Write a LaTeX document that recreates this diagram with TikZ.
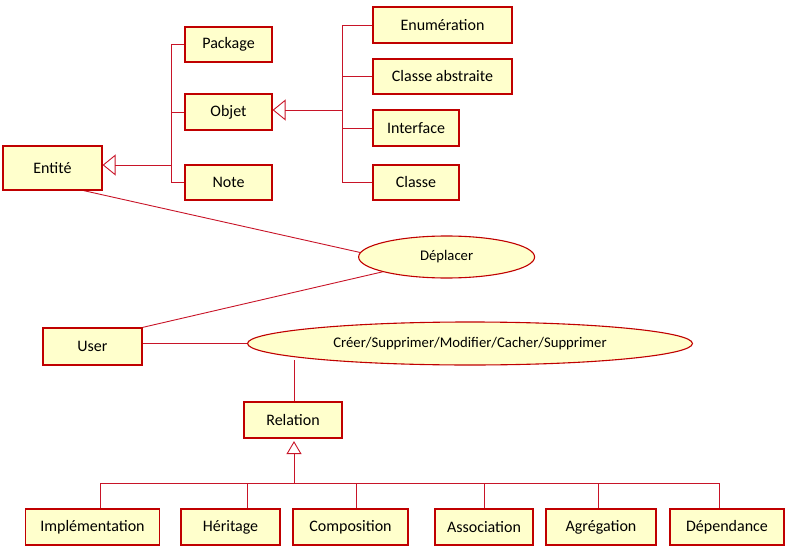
\documentclass[tikz,border=0pt]{standalone}
\usepackage{fontspec}
\setmainfont{Carlito}
\usetikzlibrary{arrows.meta,shapes.geometric}
\definecolor{umlred}{RGB}{192,0,0}
\definecolor{umlline}{RGB}{200,20,40}
\definecolor{umlfill}{RGB}{255,255,204}
\pgfdeclarelayer{background}
\pgfsetlayers{background,main}

\begin{document}
\begin{tikzpicture}[x=1pt,y=-1pt,
  box/.style={draw=umlred, fill=umlfill, line width=1.2pt, inner sep=0pt,
              font=\fontsize{16}{18}\selectfont, anchor=center},
  usecase/.style={ellipse, draw=umlred, fill=umlfill, line width=1.1pt, inner sep=0pt,
              font=\fontsize{14.7}{17}\selectfont},
  link/.style={draw=umlline, line width=0.9pt},
  gen/.style={link, -{Triangle[open, length=13pt, width=21pt]}},
  genv/.style={link, -{Triangle[open, length=13pt, width=15pt]}},
]
\useasboundingbox (0,0) rectangle (797,556);

% entities
\node[box, minimum width=99pt, minimum height=44pt] (ent)  at (52.5,168)   {Entité};
\node[box, minimum width=87pt, minimum height=35pt] (pkg)  at (228.5,44.5) {Package};
\node[box, minimum width=87pt, minimum height=36pt] (obj)  at (228.5,112)  {Objet};
\node[box, minimum width=87pt, minimum height=35pt] (note) at (228.5,182.5){Note};
\node[box, minimum width=139pt, minimum height=36pt] (enum) at (442.5,25)  {Enumération};
\node[box, minimum width=139pt, minimum height=35pt] (abs)  at (442.5,76.5){Classe abstraite};
\node[box, minimum width=86pt, minimum height=36pt] (intf) at (416,128)    {Interface};
\node[box, minimum width=86pt, minimum height=35pt] (cls)  at (416,182.5)  {Classe};

% actor and use cases
\node[box, minimum width=99pt, minimum height=37pt] (user) at (92.5,346.5) {User};
\node[usecase, minimum width=176pt, minimum height=42pt] (depl) at (446.6,257) {Déplacer};
\node[usecase, minimum width=445pt, minimum height=43pt] (cre) at (470,343.5)
     {Créer/Supprimer/Modifier/Cacher/Supprimer};

% relations
\node[box, minimum width=98pt, minimum height=36pt] (rel) at (293,420) {Relation};
\node[box, minimum width=134pt, minimum height=36pt] (impl)  at (92.5,527) {Implémentation};
\node[box, minimum width=99pt,  minimum height=36pt] (her)   at (230.5,527){Héritage};
\node[box, minimum width=115pt, minimum height=36pt] (comp)  at (350.5,527){Composition};
\node[box, minimum width=98pt,  minimum height=36pt] (assoc) at (484,527)  {Association};
\node[box, minimum width=110pt, minimum height=36pt] (agr)   at (601,527)  {Agrégation};
\node[box, minimum width=114pt, minimum height=36pt] (dep)   at (727,527)  {Dépendance};

% bus points
\coordinate (lbus) at (171,165);
\coordinate (rbus) at (342.6,110);
\coordinate (crefoot) at (294.6,360);
\coordinate (relbus) at (294,483);
\coordinate (d1) at (100,483);
\coordinate (d2) at (247,483);
\coordinate (d3) at (356,483);
\coordinate (d4) at (484,483);
\coordinate (d5) at (598,483);
\coordinate (d6) at (719.5,483);

\begin{pgfonlayer}{background}
  % Entité hierarchy
  \draw[link] (pkg.west) -- (pkg.west -| lbus) -- (note.west -| lbus) -- (note.west);
  \draw[link] (obj.west) -- (obj.west -| lbus);
  \draw[gen] (lbus) -- (lbus -| ent.east);
  % Objet hierarchy
  \draw[link] (enum.west) -- (enum.west -| rbus) -- (cls.west -| rbus) -- (cls.west);
  \draw[link] (abs.west) -- (abs.west -| rbus);
  \draw[link] (intf.west) -- (intf.west -| rbus);
  \draw[gen] (rbus) -- (rbus -| obj.east);
  % associations
  \draw[link] (ent.-36) -- (depl.177);
  \draw[link] (user.north east) -- (depl);
  \draw[link] (cre.west -| user.east) -- (cre.west);
  \draw[link] (crefoot) -- (crefoot |- rel.north);
  % Relation hierarchy
  \draw[link] (d1) -- (d6);
  \draw[link] (d1) -- (d1 |- impl.north);
  \draw[link] (d2) -- (d2 |- her.north);
  \draw[link] (d3) -- (d3 |- comp.north);
  \draw[link] (d4) -- (d4 |- assoc.north);
  \draw[link] (d5) -- (d5 |- agr.north);
  \draw[link] (d6) -- (d6 |- dep.north);
  \draw[genv, shorten >=2.5pt] (relbus) -- (relbus |- rel.south);
\end{pgfonlayer}
\end{tikzpicture}
\end{document}
